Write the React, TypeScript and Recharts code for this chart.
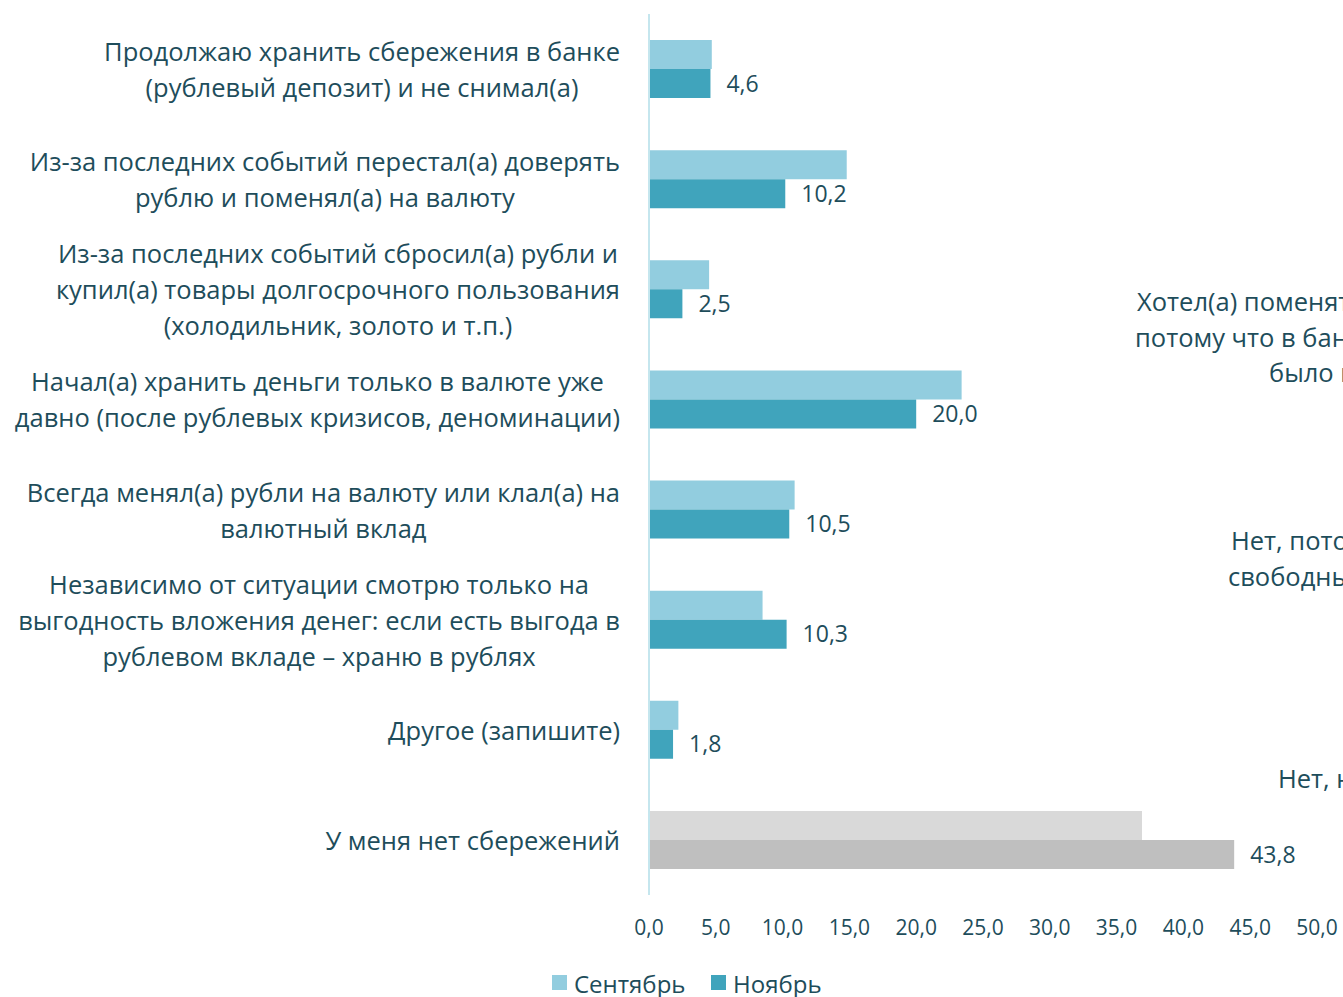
import React from "react";
import { BarChart, Bar, XAxis, YAxis, Cell, LabelList } from "recharts";

const categories = [
  "Продолжаю хранить сбережения в банке\n(рублевый депозит) и не снимал(а)",
  "Из-за последних событий перестал(а) доверять\nрублю и поменял(а) на валюту",
  "Из-за последних событий сбросил(а) рубли и\nкупил(а) товары долгосрочного пользования\n(холодильник, золото и т.п.)",
  "Начал(а) хранить деньги только в валюте уже\nдавно (после рублевых кризисов, деноминации)",
  "Всегда менял(а) рубли на валюту или клал(а) на\nвалютный вклад",
  "Независимо от ситуации смотрю только на\nвыгодность вложения денег: если есть выгода в\nрублевом вкладе – храню в рублях",
  "Другое (запишите)",
  "У меня нет сбережений",
];
const september = [4.7, 14.8, 4.5, 23.4, 10.9, 8.5, 2.2, 36.9];
const november = [4.6, 10.2, 2.5, 20.0, 10.5, 10.3, 1.8, 43.8];
const xTicks = [0, 5, 10, 15, 20, 25, 30, 35, 40, 45, 50];
const seriesNames = ["Сентябрь", "Ноябрь"];

const sideTexts = [
  { text: "Хотел(а) поменять", x: 1137, y: 301 },
  { text: "потому что в банке", x: 1135, y: 337 },
  { text: "было н", x: 1269, y: 372 },
  { text: "Нет, потому что", x: 1231, y: 540 },
  { text: "свободных", x: 1228, y: 576 },
  { text: "Нет, не", x: 1278, y: 778 },
];

const data = categories.map((c, i) => ({ name: c, sep: september[i], nov: november[i] }));

const TEXT = "#1E4D5B";
const FONT = '"Open Sans", sans-serif';
const SEP = "#92CDDF";
const NOV = "#40A4BC";
const SEP_GRAY = "#D9D9D9";
const NOV_GRAY = "#BFBFBF";
const LABEL_SIZE = 25.5;

const fmt = (v: number) => v.toFixed(1).replace(".", ",");

let ctx: CanvasRenderingContext2D | null = null;
const measure = (t: string, size: number) => {
  if (!ctx) ctx = document.createElement("canvas").getContext("2d");
  if (!ctx) return t.length * size * 0.55;
  ctx.font = `${size}px "Open Sans"`;
  return ctx.measureText(t).width;
};

const CatTick = (props: any) => {
  const { y, payload } = props;
  const lines: string[] = String(payload.value).split("\n");
  const lh = 36;
  const maxW = Math.max(...lines.map((l) => measure(l, LABEL_SIZE)));
  const right = 620;
  const cx = right - maxW / 2;
  const y0 = y - ((lines.length - 1) * lh) / 2;
  return (
    <g>
      {lines.map((l, i) => (
        <text
          key={i}
          x={cx}
          y={y0 + i * lh}
          textAnchor="middle"
          dominantBaseline="central"
          fill={TEXT}
          fontSize={LABEL_SIZE}
          fontFamily={FONT}
        >
          {l}
        </text>
      ))}
    </g>
  );
};

export default function App() {
  return (
    <div style={{ position: "absolute", left: 0, top: 0, width: 1343, height: 997, overflow: "hidden", background: "#fff" }}>
      <BarChart
        width={1343}
        height={997}
        data={data}
        layout="vertical"
        margin={{ top: 14, right: 26, bottom: 72, left: 0 }}
        barGap={0}
        barCategoryGap={26}
      >
        <XAxis
          type="number"
          domain={[0, 50]}
          ticks={xTicks}
          tickFormatter={fmt}
          axisLine={false}
          tickLine={false}
          tickMargin={19}
          height={30}
          tick={{ fill: TEXT, fontSize: 21, fontFamily: FONT }}
          interval={0}
        />
        <YAxis
          type="category"
          dataKey="name"
          width={649}
          axisLine={{ stroke: "#C5E6EE", strokeWidth: 2 }}
          tickLine={false}
          tick={<CatTick />}
          interval={0}
        />
        <Bar dataKey="sep" name={seriesNames[0]} fill={SEP} isAnimationActive={false}>
          {data.map((d, i) => (
            <Cell key={i} fill={i === data.length - 1 ? SEP_GRAY : SEP} />
          ))}
        </Bar>
        <Bar dataKey="nov" name={seriesNames[1]} fill={NOV} isAnimationActive={false}>
          {data.map((d, i) => (
            <Cell key={i} fill={i === data.length - 1 ? NOV_GRAY : NOV} />
          ))}
          <LabelList
            dataKey="nov"
            position="right"
            offset={16}
            formatter={(v: any) => fmt(Number(v))}
            fill={TEXT}
            fontSize={23}
            fontFamily={FONT}
          />
        </Bar>
      </BarChart>
      <svg width={1343} height={997} style={{ position: "absolute", left: 0, top: 0, pointerEvents: "none" }}>
        {sideTexts.map((t, i) => (
          <text key={i} x={t.x} y={t.y} dominantBaseline="central" fill={TEXT} fontSize={LABEL_SIZE} fontFamily={FONT}>
            {t.text}
          </text>
        ))}
        <rect x={552} y={975} width={15} height={15} fill={SEP} />
        <text x={574} y={983} dominantBaseline="central" fill={TEXT} fontSize={24} fontFamily={FONT}>
          {seriesNames[0]}
        </text>
        <rect x={711} y={975} width={15} height={15} fill={NOV} />
        <text x={733} y={983} dominantBaseline="central" fill={TEXT} fontSize={24} fontFamily={FONT}>
          {seriesNames[1]}
        </text>
      </svg>
    </div>
  );
}
